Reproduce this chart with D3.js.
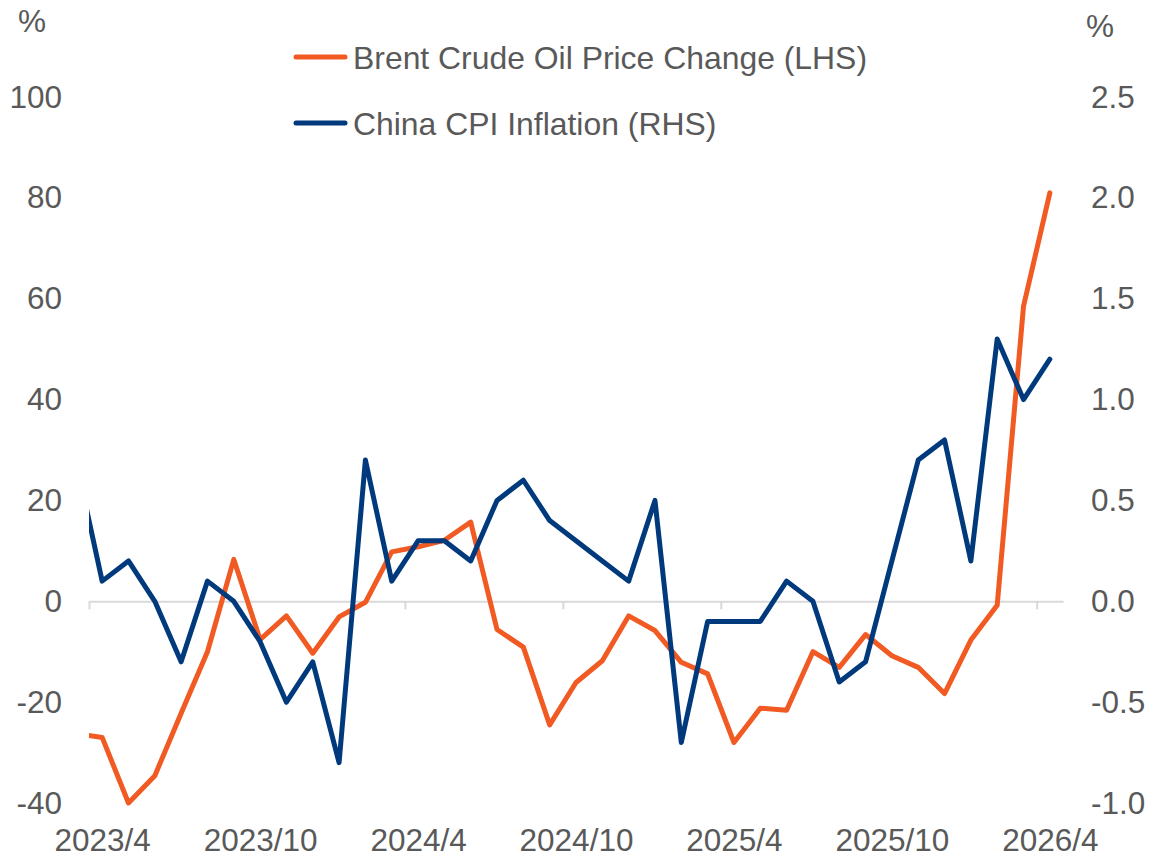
<!DOCTYPE html>
<html>
<head>
<meta charset="utf-8">
<script src="https://cdn.jsdelivr.net/npm/d3@7"></script>
<style>
  html, body { margin: 0; padding: 0; background: #ffffff; }
  svg { display: block; font-family: "Liberation Sans", Arial, sans-serif; }
</style>
</head>
<body>
<svg id="chart" width="1150" height="857"></svg>
<script>
// Monthly observations, 2023/3 through 2026/4
const months = [
  "2023/3","2023/4","2023/5","2023/6","2023/7","2023/8","2023/9","2023/10","2023/11","2023/12",
  "2024/1","2024/2","2024/3","2024/4","2024/5","2024/6","2024/7","2024/8","2024/9","2024/10","2024/11","2024/12",
  "2025/1","2025/2","2025/3","2025/4","2025/5","2025/6","2025/7","2025/8","2025/9","2025/10","2025/11","2025/12",
  "2026/1","2026/2","2026/3","2026/4"
];

// Brent crude oil price, % change year on year (left axis)
const brentChange = [
  -26.2, -27.0, -40.0, -34.6, -22.2, -10.0, 8.3, -7.6, -2.9, -10.3,
  -3.1, -0.2, 9.8, 10.8, 12.1, 15.7, -5.6, -9.1, -24.5, -16.1, -11.8, -2.9,
  -5.8, -12.1, -14.4, -28.0, -21.2, -21.6, -10.0, -13.1, -6.6, -10.8, -13.1, -18.3,
  -7.7, -0.8, 58.5, 81.0
];

// China CPI inflation, % year on year (right axis)
const chinaCPI = [
  0.7, 0.1, 0.2, 0.0, -0.3, 0.1, 0.0, -0.2, -0.5, -0.3,
  -0.8, 0.7, 0.1, 0.3, 0.3, 0.2, 0.5, 0.6, 0.4, 0.3, 0.2, 0.1,
  0.5, -0.7, -0.1, -0.1, -0.1, 0.1, 0.0, -0.4, -0.3, 0.2, 0.7, 0.8,
  0.2, 1.3, 1.0, 1.2
];

const xTickLabels = ["2023/4","2023/10","2024/4","2024/10","2025/4","2025/10","2026/4"];
const leftTicks = [-40, -20, 0, 20, 40, 60, 80, 100];
const rightTicks = [-1.0, -0.5, 0.0, 0.5, 1.0, 1.5, 2.0, 2.5];

const seriesNames = ["Brent Crude Oil Price Change (LHS)", "China CPI Inflation (RHS)"];
const seriesColors = ["#F15A22", "#003A7D"];

const textColor = "#595959";
const gridColor = "#D9D9D9";
const fontSize = 31.5;
const legendFontSize = 31.9;

const plot = { left: 89, right: 1063, top: 97, bottom: 803 };

const svg = d3.select("#chart");

// The visible window starts half a month before 2023/4 and ends half a month after 2026/4
const firstShown = months.indexOf("2023/4");
const lastShown = months.indexOf("2026/4");
const x = d3.scaleLinear()
  .domain([firstShown - 0.5, lastShown + 0.5])
  .range([plot.left, plot.right]);

const yLeft = d3.scaleLinear().domain([-40, 100]).range([plot.bottom, plot.top]);
const yRight = d3.scaleLinear().domain([-1.0, 2.5]).range([plot.bottom, plot.top]);

svg.append("defs").append("clipPath").attr("id", "plot-clip")
  .append("rect")
  .attr("x", plot.left).attr("y", 0)
  .attr("width", plot.right - plot.left).attr("height", 857);

// Left value axis (labels only)
const leftAxis = svg.append("g")
  .attr("transform", `translate(${plot.left},0)`)
  .call(d3.axisLeft(yLeft).tickValues(leftTicks).tickSize(0).tickPadding(27));
leftAxis.select(".domain").remove();
leftAxis.selectAll("text").attr("fill", textColor).style("font-size", fontSize + "px")
  .style("font-family", '"Liberation Sans", Arial, sans-serif')
  .text(d => String(d));

// Right value axis (labels only)
const rightAxis = svg.append("g")
  .attr("transform", `translate(${plot.right},0)`)
  .call(d3.axisRight(yRight).tickValues(rightTicks).tickSize(0).tickPadding(28));
rightAxis.select(".domain").remove();
rightAxis.selectAll("text").attr("fill", textColor).style("font-size", fontSize + "px")
  .style("font-family", '"Liberation Sans", Arial, sans-serif')
  .text(d => d.toFixed(1));

// Unit markers above each value axis
svg.append("text").attr("x", 32).attr("y", 32).attr("text-anchor", "middle")
  .attr("fill", textColor).style("font-size", fontSize + "px").text("%");
svg.append("text").attr("x", 1100).attr("y", 37).attr("text-anchor", "middle")
  .attr("fill", textColor).style("font-size", fontSize + "px").text("%");

// Category axis line at zero, with tick marks every six months between categories
const boundaryTicks = d3.range(firstShown - 0.5, lastShown + 0.5, 6);
const xAxis = svg.append("g")
  .attr("transform", `translate(0,${yLeft(0)})`)
  .call(d3.axisBottom(x).tickValues(boundaryTicks).tickSize(8).tickSizeOuter(0).tickFormat(""));
xAxis.select(".domain").attr("stroke", gridColor).attr("stroke-width", 2);
xAxis.selectAll(".tick line").attr("stroke", gridColor).attr("stroke-width", 2);

// Month labels along the bottom of the plot
const labelAxis = svg.append("g")
  .attr("transform", `translate(0,${plot.bottom})`)
  .call(d3.axisBottom(x)
    .tickValues(xTickLabels.map(m => months.indexOf(m)))
    .tickSize(0).tickPadding(25.6)
    .tickFormat(i => months[i]));
labelAxis.select(".domain").remove();
labelAxis.selectAll("text").attr("fill", textColor).style("font-size", fontSize + "px")
  .style("font-family", '"Liberation Sans", Arial, sans-serif');

// Series lines
const lines = svg.append("g").attr("clip-path", "url(#plot-clip)");

const brentLine = d3.line().x((d, i) => x(i)).y(d => yLeft(d));
const cpiLine = d3.line().x((d, i) => x(i)).y(d => yRight(d));

lines.append("path").datum(brentChange)
  .attr("d", brentLine)
  .attr("fill", "none").attr("stroke", seriesColors[0]).attr("stroke-width", 5)
  .attr("stroke-linejoin", "round").attr("stroke-linecap", "round");

lines.append("path").datum(chinaCPI)
  .attr("d", cpiLine)
  .attr("fill", "none").attr("stroke", seriesColors[1]).attr("stroke-width", 5)
  .attr("stroke-linejoin", "round").attr("stroke-linecap", "round");

// Legend
const legendRows = [57, 123];
const legend = svg.append("g");
seriesNames.forEach((name, i) => {
  const row = legend.append("g").attr("transform", `translate(0,${legendRows[i]})`);
  row.append("line").attr("x1", 296).attr("x2", 345).attr("y1", 0).attr("y2", 0)
    .attr("stroke", seriesColors[i]).attr("stroke-width", 5).attr("stroke-linecap", "round");
  row.append("text").attr("x", 353).attr("y", 11.5)
    .attr("fill", textColor).style("font-size", legendFontSize + "px").text(name);
});
</script>
</body>
</html>
